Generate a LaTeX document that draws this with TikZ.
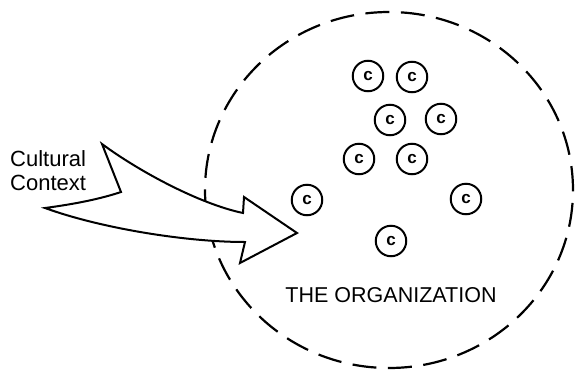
\documentclass[tikz,border=0pt]{standalone}
\usepackage{fontspec}
\setmainfont{Liberation Sans}
\usetikzlibrary{shapes.geometric}
\begin{document}
\begin{tikzpicture}[x=1pt,y=-1pt,
  cnode/.style={circle,draw,line width=2pt,minimum size=30.5pt,inner sep=0pt,
    font=\fontsize{17}{17}\selectfont\bfseries},
  orgline/.style={ellipse,draw,line width=2.2pt,dash pattern=on 24pt off 11.5pt,
    minimum width=368pt,minimum height=356pt,inner sep=0pt},
  lbl/.style={font=\fontsize{22}{24}\selectfont,inner sep=0pt},
  biglbl/.style={font=\fontsize{21.5}{24}\selectfont,inner sep=0pt},
  bigarrow/.style={line width=2pt,fill=white,line join=miter,miter limit=20}]
\useasboundingbox (0,0) rectangle (576,370);
\node[orgline] (org) at (389,190) {};
\node[cnode] (c1) at (368,76) {c};
\node[cnode] (c2) at (412,77) {c};
\node[cnode] (c3) at (390,120) {c};
\node[cnode] (c4) at (441,119) {c};
\node[cnode] (c5) at (359,159) {c};
\node[cnode] (c6) at (412,159) {c};
\node[cnode] (c7) at (307,200) {c};
\node[cnode] (c8) at (466,199) {c};
\node[cnode] (c9) at (391,241) {c};
\node[biglbl,anchor=base] (orgname) at (391,302) {THE ORGANIZATION};
\node[lbl,anchor=base west] (cult) at (10,166) {Cultural};
\node[lbl,anchor=base west] (ctx) at (10,190) {Context};
\draw[bigarrow] (45,208) .. controls (75,204) and (100,199) .. (121,192)
  -- (102,144)
  .. controls (140,172) and (200,204) .. (243,213)
  -- (244,197) -- (297,233) -- (240,263) -- (245,242)
  .. controls (185,242) and (100,228) .. (45,208) -- cycle;
\end{tikzpicture}
\end{document}
